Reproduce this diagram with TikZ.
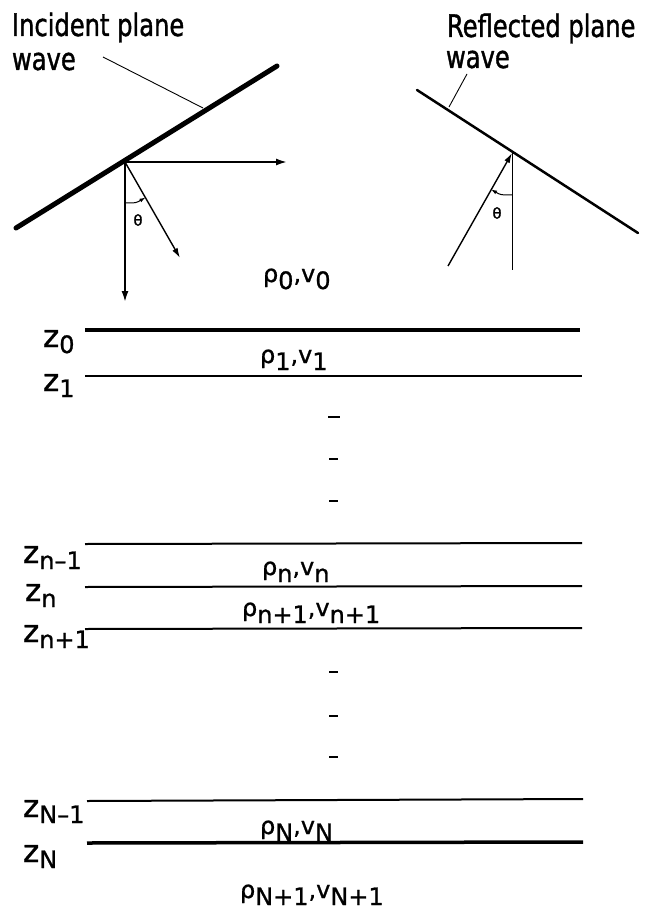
\documentclass[tikz,border=0pt]{standalone}
\usepackage{fontspec}
\usetikzlibrary{arrows.meta}
\newfontfamily\lab[FakeStretch=0.78,FakeBold=1.2]{DejaVu Sans}
\newfontfamily\mth[FakeBold=1.0]{DejaVu Sans}
\newcommand\lowsub[2][7pt]{\raisebox{-#1}{\fontsize{24}{24}\selectfont #2}}
\begin{document}
\begin{tikzpicture}[x=1pt,y=-1pt,
  every node/.style={inner sep=0pt,outer sep=0pt},
  title/.style={font=\lab\fontsize{31}{31}\selectfont,anchor=base west},
  zlab/.style={font=\mth\fontsize{31}{31}\selectfont,anchor=base west},
  mlab/.style={font=\mth\fontsize{24}{24}\selectfont,anchor=base west},
  thlab/.style={font=\mth\fontsize{15}{15}\selectfont},
  wavethick/.style={line width=5pt,line cap=round},
  wavethin/.style={line width=2.5pt,line cap=round},
  ray/.style={line width=1.8pt,-{Latex[length=11pt,width=7pt]}},
  thinray/.style={line width=1.4pt,-{Latex[length=10pt,width=6pt]}},
  leader/.style={line width=0.9pt},
  layer/.style={line width=2pt},
  layerthick/.style={line width=3.5pt},
  dashmark/.style={line width=2pt},
  anglearc/.style={line width=1pt,-{Latex[length=6pt,width=4pt]}}]
\useasboundingbox (0,0) rectangle (652,909);

% ---------- incident wave ----------
\node[title] (inc1) at (12,36) {Incident plane};
\node[title] (inc2) at (12,70) {wave};
\coordinate (iwA) at (16,228);
\coordinate (iwB) at (277,66);
\draw[wavethick] (iwA) -- (iwB);
\coordinate (ilead0) at (103,57);
\coordinate (ilead1) at (203,108);
\draw[leader] (ilead0) -- (ilead1);
\coordinate (P) at (125,162);
\coordinate (Ph) at (287,162);
\coordinate (Pv) at (125,302);
\coordinate (Po) at (180,258);
\draw[ray] (P) -- (Ph);
\draw[ray] (P) -- (Pv);
\draw[thinray] (P) -- (Po);
\coordinate (ia0) at (125,203);
\coordinate (ia1) at (145.5,197.5);
\draw[anglearc] (ia0) .. controls (136,203) .. (ia1);
\node[thlab] (ith) at (138,220) {θ};

% ---------- reflected wave ----------
\node[title] (ref1) at (447,37) {Reflected plane};
\node[title] (ref2) at (446,68) {wave};
\coordinate (rwA) at (417,90);
\coordinate (rwB) at (638,233);
\draw[wavethin] (rwA) -- (rwB);
\coordinate (rlead0) at (467,74);
\coordinate (rlead1) at (449,107);
\draw[leader] (rlead0) -- (rlead1);
\coordinate (Q) at (512,153);
\coordinate (Qo) at (448,266);
\coordinate (Qv) at (512,270);
\draw[thinray] (Qo) -- (Q);
\draw[line width=1pt] (Q) -- (Qv);
\coordinate (ra0) at (512,195);
\coordinate (ra1) at (491,189.4);
\draw[anglearc] (ra0) .. controls (500.7,195) .. (ra1);
\node[thlab] (rth) at (497,213) {θ};

% ---------- layers ----------
\node[mlab] (m0) at (263,282) {ρ\lowsub{0},v\lowsub{0}};

\coordinate (L0a) at (85,330); \coordinate (L0b) at (580,330);
\draw[layerthick] (L0a) -- (L0b);
\node[zlab] (z0) at (43,347) {z\lowsub[6pt]{0}};
\node[mlab] (m1) at (260,363) {ρ\lowsub{1},v\lowsub{1}};

\coordinate (L1a) at (85,376); \coordinate (L1b) at (582,376);
\draw[layer] (L1a) -- (L1b);
\node[zlab] (z1) at (43,391) {z\lowsub[6pt]{1}};

\coordinate (d1a) at (328,417); \coordinate (d1b) at (340,417);
\coordinate (d2a) at (329,459); \coordinate (d2b) at (338,459);
\coordinate (d3a) at (329,501); \coordinate (d3b) at (338,501);
\draw[dashmark] (d1a) -- (d1b);
\draw[dashmark] (d2a) -- (d2b);
\draw[dashmark] (d3a) -- (d3b);

\coordinate (Lna) at (85,544); \coordinate (Lnb) at (582,543);
\draw[layer] (Lna) -- (Lnb);
\node[zlab] (zn1) at (23,563) {z\lowsub[6pt]{n–1}};
\node[mlab] (mn) at (262,575) {ρ\lowsub{n},v\lowsub{n}};

\coordinate (Lma) at (85,587); \coordinate (Lmb) at (582,586);
\draw[layer] (Lma) -- (Lmb);
\node[zlab] (zn) at (25,601) {z\lowsub[6pt]{n}};
\node[mlab] (mn1) at (242,616) {ρ\lowsub{n+1},v\lowsub{n+1}};

\coordinate (Lpa) at (85,629); \coordinate (Lpb) at (582,628);
\draw[layer] (Lpa) -- (Lpb);
\node[zlab] (znp) at (23,642) {z\lowsub[6pt]{n+1}};

\coordinate (e1a) at (329,672); \coordinate (e1b) at (338,672);
\coordinate (e2a) at (329,716); \coordinate (e2b) at (338,716);
\coordinate (e3a) at (329,757); \coordinate (e3b) at (338,757);
\draw[dashmark] (e1a) -- (e1b);
\draw[dashmark] (e2a) -- (e2b);
\draw[dashmark] (e3a) -- (e3b);

\coordinate (LNa) at (87,801); \coordinate (LNb) at (583,799);
\draw[layer] (LNa) -- (LNb);
\node[zlab] (zN1) at (23,817) {z\lowsub[6pt]{N–1}};
\node[mlab] (mN) at (260,834) {ρ\lowsub{N},v\lowsub{N}};

\coordinate (LZa) at (87,843); \coordinate (LZb) at (583,842);
\draw[layerthick] (LZa) -- (LZb);
\node[zlab] (zN) at (23,862) {z\lowsub[6pt]{N}};
\node[mlab] (mN1) at (240,898) {ρ\lowsub{N+1},v\lowsub{N+1}};
\end{tikzpicture}
\end{document}
